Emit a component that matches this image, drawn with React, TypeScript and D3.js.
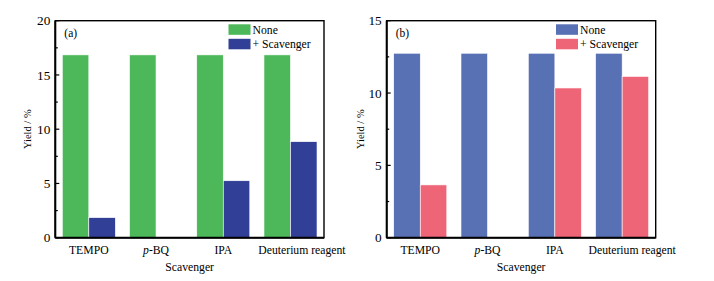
import React from "react";
import * as d3 from "d3";

const categories = ["TEMPO", "p-BQ", "IPA", "Deuterium reagent"];
const seriesNames = ["None", "+ Scavenger"];
const noneA = [16.85, 16.85, 16.85, 16.85];
const scavA = [1.85, 0, 5.25, 8.85];
const noneB = [12.75, 12.75, 12.75, 12.75];
const scavB = [3.65, 0, 10.35, 11.15];
const ticksA = [0, 5, 10, 15, 20];
const ticksB = [0, 5, 10, 15];

const FONT = "'Liberation Serif', 'DejaVu Serif', serif";

type PanelProps = {
  x0: number; x1: number; yMax: number; ticks: number[];
  s1: number[]; s2: number[]; c1: string; c2: string; label: string;
  titleX: number; legX: number; lastShift: number;
};

function Panel({ x0, x1, yMax, ticks, s1, s2, c1, c2, label, titleX, legX, lastShift }: PanelProps) {
  const top = 20.7, bottom = 237.7;
  const y = d3.scaleLinear().domain([0, yMax]).range([bottom, top]);
  const xb = d3.scaleBand<string>().domain(categories).range([x0, x1]).paddingInner(0.211).paddingOuter(0.104);
  const xs = d3.scaleBand<string>().domain(seriesNames).range([0, xb.bandwidth()]);
  const minor = d3.range(2.5, yMax, 5);
  const series = [s1, s2];
  const cols = [c1, c2];
  return (
    <g>
      {categories.map((c, i) =>
        series.map((s, j) => (
          s[i] > 0 ? (
            <rect key={c + j} x={(xb(c) as number) + (xs(seriesNames[j]) as number)} width={xs.bandwidth()}
              y={y(s[i])} height={bottom - y(s[i])} fill={cols[j]} stroke="#ffffff" strokeWidth={0.6} />
          ) : null
        ))
      )}
      <rect x={x0} y={top} width={x1 - x0} height={bottom - top} fill="none" stroke="#000" strokeWidth={1.4} />
      <line x1={x0} x2={x1} y1={bottom} y2={bottom} stroke="#000" strokeWidth={2} />
      <line x1={x0} x2={x0} y1={top} y2={bottom} stroke="#000" strokeWidth={2} />
      {ticks.map((t) => (
        <g key={t}>
          <line x1={x0} x2={x0 + 4} y1={y(t)} y2={y(t)} stroke="#000" strokeWidth={1.2} />
          <text x={x0 - 5} y={y(t)} dy="0.35em" textAnchor="end" fontSize={13.3} fontFamily={FONT}>{t}</text>
        </g>
      ))}
      {minor.map((t) => (
        <line key={"m" + t} x1={x0} x2={x0 + 2.5} y1={y(t)} y2={y(t)} stroke="#000" strokeWidth={1.2} />
      ))}
      {categories.map((c, i) => (
        <text key={c} x={(xb(c) as number) + xb.bandwidth() / 2 + (i === categories.length - 1 ? lastShift : 0)} y={254}
          textAnchor="middle" fontSize={11.7} fontFamily={FONT}>
          {c === "p-BQ" ? (<><tspan fontStyle="italic">p</tspan>-BQ</>) : c}
        </text>
      ))}
      <text x={(x0 + x1) / 2} y={271} textAnchor="middle" fontSize={11.7} fontFamily={FONT}>Scavenger</text>
      <text transform={`translate(${titleX},${(top + bottom) / 2}) rotate(-90)`} textAnchor="middle" fontSize={10.5} fontFamily={FONT}>Yield / %</text>
      <text x={x0 + 9} y={37} fontSize={11.5} fontFamily={FONT}>{label}</text>
      {seriesNames.map((n, j) => (
        <g key={n}>
          <rect x={legX} y={24.3 + j * 14.5} width={22} height={10.5} fill={cols[j]} />
          <text x={legX + 24} y={24.3 + j * 14.5 + 5.25} dy="0.35em" fontSize={11.7} fontFamily={FONT}>{n}</text>
        </g>
      ))}
    </g>
  );
}

export default function App() {
  return (
    <svg width={714} height={281} style={{ position: "absolute", left: 0, top: 0, background: "#fff" }}>
      <rect x={0} y={0} width={714} height={281} fill="#fff" />
      <Panel x0={55.3} x1={324} yMax={20} ticks={ticksA} s1={noneA} s2={scavA} c1="#4db85a" c2="#323f96"
        label="(a)" titleX={31} legX={228.5} lastShift={11.5} />
      <Panel x0={386.7} x1={655.7} yMax={15} ticks={ticksB} s1={noneB} s2={scavB} c1="#5870b4" c2="#ef6578"
        label="(b)" titleX={364} legX={556} lastShift={10} />
    </svg>
  );
}
